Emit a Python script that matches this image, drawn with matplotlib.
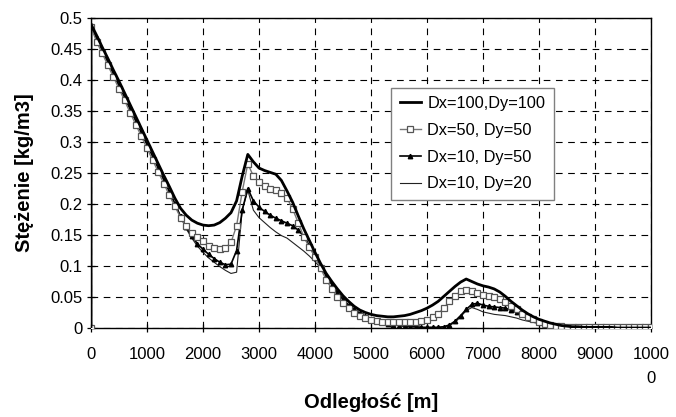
import numpy as np
import matplotlib
matplotlib.use('Agg')
import matplotlib.pyplot as plt

plt.rcParams['font.family'] = ['Liberation Sans', 'DejaVu Sans']

# distance [m]: first point (0, 0) then a reading every 100 m
distance = [0] + list(range(0, 10001, 100))

# Dx=100, Dy=100
c_100_100 = [0.0,
    0.490, 0.472, 0.453, 0.435, 0.416, 0.398, 0.379, 0.360, 0.341, 0.322,
    0.303, 0.284, 0.265, 0.246, 0.228, 0.209, 0.193, 0.182, 0.174, 0.169,
    0.166, 0.165, 0.166, 0.170, 0.177, 0.186, 0.205, 0.245, 0.280, 0.268,
    0.258, 0.254, 0.251, 0.248, 0.238, 0.221, 0.203, 0.181, 0.160, 0.141,
    0.122, 0.104, 0.088, 0.075, 0.063, 0.052, 0.043, 0.035, 0.029, 0.025,
    0.022, 0.020, 0.019, 0.018, 0.018, 0.019, 0.020, 0.022, 0.025, 0.028,
    0.032, 0.037, 0.043, 0.051, 0.059, 0.067, 0.074, 0.079, 0.075, 0.071,
    0.068, 0.066, 0.063, 0.058, 0.051, 0.043, 0.036, 0.029, 0.023, 0.018,
    0.014, 0.011, 0.008, 0.006, 0.004, 0.003, 0.002, 0.002, 0.001, 0.001,
    0.001, 0.001, 0.001, 0.001, 0.000, 0.000, 0.000, 0.000, 0.000, 0.000,
    0.000]

# Dx=50, Dy=50
c_50_50 = [0.0,
    0.485, 0.462, 0.443, 0.424, 0.405, 0.386, 0.367, 0.347, 0.328, 0.309,
    0.290, 0.271, 0.252, 0.233, 0.214, 0.196, 0.178, 0.164, 0.153, 0.146,
    0.140, 0.133, 0.129, 0.128, 0.129, 0.138, 0.165, 0.220, 0.265, 0.245,
    0.236, 0.229, 0.225, 0.222, 0.218, 0.210, 0.192, 0.170, 0.147, 0.130,
    0.115, 0.096, 0.078, 0.063, 0.050, 0.040, 0.032, 0.025, 0.020, 0.016,
    0.013, 0.011, 0.010, 0.009, 0.009, 0.009, 0.009, 0.009, 0.010, 0.011,
    0.013, 0.018, 0.023, 0.032, 0.043, 0.052, 0.059, 0.062, 0.059, 0.056,
    0.054, 0.052, 0.050, 0.047, 0.042, 0.036, 0.030, 0.023, 0.018, 0.014,
    0.010, 0.007, 0.005, 0.004, 0.003, 0.002, 0.002, 0.001, 0.001, 0.001,
    0.001, 0.001, 0.001, 0.001, 0.001, 0.001, 0.001, 0.001, 0.001, 0.001,
    0.001]

# Dx=10, Dy=50
c_10_50 = [0.0,
    0.488, 0.467, 0.448, 0.429, 0.410, 0.391, 0.372, 0.353, 0.334, 0.315,
    0.296, 0.277, 0.258, 0.239, 0.220, 0.200, 0.180, 0.163, 0.148, 0.136,
    0.127, 0.119, 0.112, 0.106, 0.102, 0.103, 0.125, 0.190, 0.225, 0.205,
    0.195, 0.188, 0.182, 0.177, 0.173, 0.169, 0.165, 0.158, 0.148, 0.133,
    0.115, 0.099, 0.084, 0.070, 0.057, 0.046, 0.037, 0.030, 0.024, 0.019,
    0.015, 0.011, 0.009, 0.007, 0.005, 0.004, 0.003, 0.002, 0.002, 0.001,
    0.001, 0.001, 0.001, 0.002, 0.005, 0.011, 0.020, 0.030, 0.038, 0.040,
    0.037, 0.035, 0.034, 0.033, 0.032, 0.029, 0.026, 0.022, 0.018, 0.015,
    0.011, 0.008, 0.006, 0.004, 0.003, 0.002, 0.001, 0.001, 0.001, 0.001,
    0.000, 0.000, 0.000, 0.000, 0.000, 0.000, 0.000, 0.000, 0.000, 0.000,
    0.000]

# Dx=10, Dy=20
c_10_20 = [0.0,
    0.488, 0.467, 0.448, 0.429, 0.410, 0.391, 0.372, 0.353, 0.334, 0.315,
    0.296, 0.277, 0.258, 0.239, 0.220, 0.200, 0.180, 0.160, 0.145, 0.132,
    0.122, 0.113, 0.106, 0.099, 0.093, 0.088, 0.090, 0.190, 0.222, 0.190,
    0.178, 0.170, 0.162, 0.155, 0.149, 0.145, 0.138, 0.131, 0.124, 0.116,
    0.107, 0.097, 0.085, 0.071, 0.058, 0.047, 0.037, 0.029, 0.023, 0.017,
    0.013, 0.010, 0.008, 0.006, 0.005, 0.004, 0.003, 0.002, 0.002, 0.001,
    0.001, 0.001, 0.001, 0.002, 0.004, 0.009, 0.018, 0.028, 0.033, 0.030,
    0.026, 0.024, 0.022, 0.021, 0.020, 0.018, 0.016, 0.013, 0.011, 0.009,
    0.007, 0.005, 0.004, 0.003, 0.002, 0.001, 0.001, 0.001, 0.000, 0.000,
    0.000, 0.000, 0.000, 0.000, 0.000, 0.000, 0.000, 0.000, 0.000, 0.000,
    0.000]

x_ticks = list(range(0, 10001, 1000))
x_ticklabels = ['0', '1000', '2000', '3000', '4000', '5000', '6000',
                '7000', '8000', '9000', '1000\n0']
y_ticks = [0, 0.05, 0.1, 0.15, 0.2, 0.25, 0.3, 0.35, 0.4, 0.45, 0.5]
y_ticklabels = ['0', '0.05', '0.1', '0.15', '0.2', '0.25', '0.3',
                '0.35', '0.4', '0.45', '0.5']

fig = plt.figure(figsize=(6.76, 4.17), dpi=100)
ax = fig.add_axes([91 / 676, 1 - 328 / 417, 560 / 676, 310 / 417])

ax.plot(distance, c_10_20, color='#222222', lw=0.8, label='Dx=10, Dy=20', zorder=3)
ax.plot(distance, c_10_50, color='black', lw=1.2, marker='^', ms=3.2,
        mfc='black', mec='black', label='Dx=10, Dy=50', zorder=4)
ax.plot(distance, c_50_50, color='#777777', lw=1.0, marker='s', ms=4.5,
        mfc='white', mec='#555555', mew=0.9, label='Dx=50, Dy=50', zorder=5)
ax.plot(distance, c_100_100, color='black', lw=2.0, label='Dx=100,Dy=100', zorder=6)

ax.set_xlim(0, 10000)
ax.set_ylim(0, 0.5)
ax.set_xticks(x_ticks)
ax.set_xticklabels(x_ticklabels, va='top', linespacing=1.75)
ax.set_yticks(y_ticks)
ax.set_yticklabels(y_ticklabels)
ax.tick_params(direction='inout', length=6, width=0.9, labelsize=12, colors='black')
ax.tick_params(axis='x', pad=11)
ax.tick_params(axis='y', pad=3)

ax.grid(True, color='black', linestyle=(0, (6, 5)), lw=0.8)
ax.set_axisbelow(True)
for s in ax.spines.values():
    s.set_color('black')
    s.set_linewidth(1.0)

ax.set_xlabel('Odległość [m]', fontsize=14.5, fontweight='bold', labelpad=5)
ax.set_ylabel('Stężenie [kg/m3]', fontsize=14.5, fontweight='bold', labelpad=12)

handles, labels = ax.get_legend_handles_labels()
order = [3, 2, 1, 0]
leg = ax.legend([handles[i] for i in order], [labels[i] for i in order],
                loc='upper right', bbox_to_anchor=(0.826, 0.775), fontsize=11.8,
                frameon=True, fancybox=False, framealpha=1, edgecolor='#808080',
                handlelength=1.3, handletextpad=0.4, borderpad=0.5,
                labelspacing=0.72, borderaxespad=0)
leg.get_frame().set_linewidth(1.0)

fig.savefig('out.png', dpi=100)
